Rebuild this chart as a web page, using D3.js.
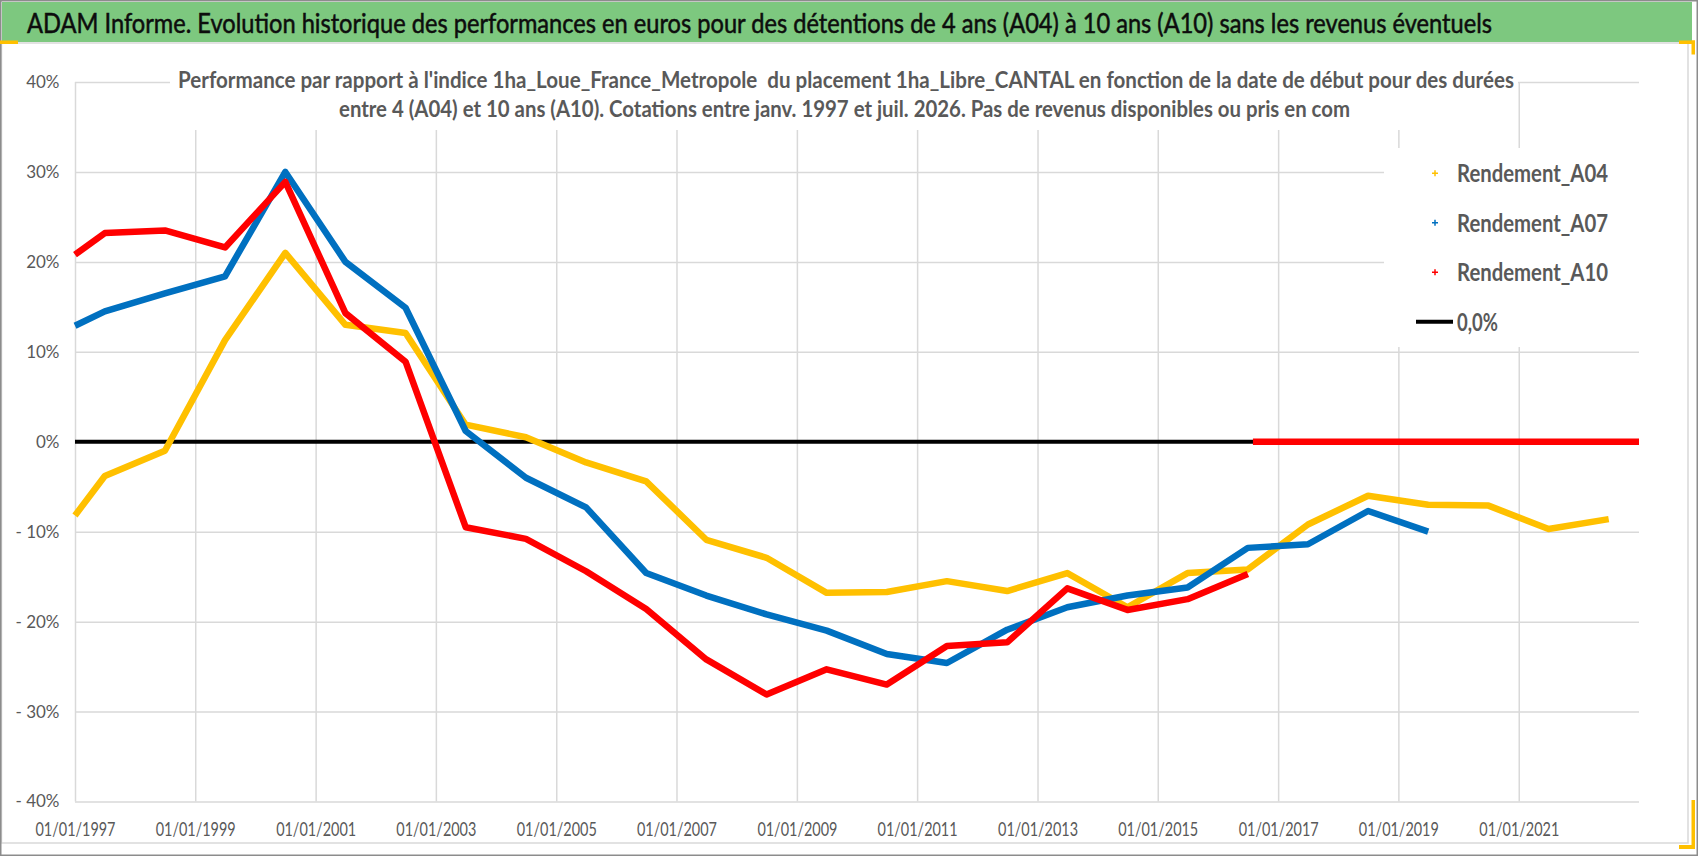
<!DOCTYPE html>
<html>
<head>
<meta charset="utf-8">
<script src="https://cdn.jsdelivr.net/npm/d3@7"></script>
<style>
  body { margin: 0; background: #fff; }
  text { font-family: Lato, "Open Sans", sans-serif; }
</style>
</head>
<body>
<script>
var width = 1698;
var height = 856;

// data (percent)
var datesA04 = ["1997-01-01","1997-07-01","1998-07-01","1999-07-01","2000-07-01","2001-07-01","2002-07-01",
  "2003-07-01","2004-07-01","2005-07-01","2006-07-01","2007-07-01","2008-07-01","2009-07-01","2010-07-01",
  "2011-07-01","2012-07-01","2013-07-01","2014-07-01","2015-07-01","2016-07-01","2017-07-01","2018-07-01",
  "2019-07-01","2020-07-01","2021-07-01","2022-07-01"];
var valuesA04 = [-8.2, -3.8, -1.0, 11.3, 21.0, 13.0, 12.1, 1.9, 0.5, -2.3, -4.4, -10.9, -12.9, -16.8, -16.7,
  -15.5, -16.6, -14.6, -18.4, -14.6, -14.2, -9.2, -6.0, -7.0, -7.1, -9.7, -8.6];

var datesA07 = ["1997-01-01","1997-07-01","1998-07-01","1999-07-01","2000-07-01","2001-07-01","2002-07-01",
  "2003-07-01","2004-07-01","2005-07-01","2006-07-01","2007-07-01","2008-07-01","2009-07-01","2010-07-01",
  "2011-07-01","2012-07-01","2013-07-01","2014-07-01","2015-07-01","2016-07-01","2017-07-01","2018-07-01",
  "2019-07-01"];
var valuesA07 = [12.9, 14.5, 16.5, 18.4, 30.0, 20.0, 14.9, 1.2, -4.0, -7.3, -14.6, -17.1, -19.2, -21.0, -23.6,
  -24.6, -20.9, -18.4, -17.1, -16.2, -11.8, -11.4, -7.7, -10.0];

var datesA10 = ["1997-01-01","1997-07-01","1998-07-01","1999-07-01","2000-07-01","2001-07-01","2002-07-01",
  "2003-07-01","2004-07-01","2005-07-01","2006-07-01","2007-07-01","2008-07-01","2009-07-01","2010-07-01",
  "2011-07-01","2012-07-01","2013-07-01","2014-07-01","2015-07-01","2016-07-01"];
var valuesA10 = [20.8, 23.2, 23.5, 21.6, 28.9, 14.3, 8.9, -9.5, -10.8, -14.4, -18.6, -24.2, -28.1, -25.3, -27.0,
  -22.7, -22.3, -16.3, -18.7, -17.5, -14.7];
// A10 has no more values after mid 2016: plotted at zero
var datesA10Zero = ["2016-08-01", "2023-01-01"];
var valuesA10Zero = [0, 0];

var datesZero = ["1997-01-01", "2023-01-01"];
var valuesZero = [0, 0];

var xTicks = ["1997-01-01","1999-01-01","2001-01-01","2003-01-01","2005-01-01","2007-01-01","2009-01-01",
  "2011-01-01","2013-01-01","2015-01-01","2017-01-01","2019-01-01","2021-01-01"];
var yTicks = [-40, -30, -20, -10, 0, 10, 20, 30, 40];

var legendNames = ["Rendement_A04", "Rendement_A07", "Rendement_A10", "0,0%"];

var title = "ADAM Informe. Evolution historique des performances en euros pour des détentions de 4 ans (A04) à 10 ans (A10) sans les revenus éventuels";
var subtitle1 = "Performance par rapport à l'indice 1ha_Loue_France_Metropole  du placement 1ha_Libre_CANTAL en fonction de la date de début pour des durées";
var subtitle2 = "entre 4 (A04) et 10 ans (A10). Cotations entre janv. 1997 et juil. 2026. Pas de revenus disponibles ou pris en com";

var yellow = "#ffc000", blue = "#0070c0", red = "#ff0000";
var labelColor = "#595959";
var gridColor = "#d9d9d9";

var parse = d3.timeParse("%Y-%m-%d");

var canvas = d3.select("body")
    .append("svg")
    .attr("width", width)
    .attr("height", height);

// frame
canvas.append("rect").attr("x", 0).attr("y", 0).attr("width", width).attr("height", height).attr("fill", "#fff");
canvas.append("rect")
    .attr("x", 1.5).attr("y", 43).attr("width", 1686.5).attr("height", 800)
    .attr("fill", "#fff").attr("stroke", gridColor).attr("stroke-width", 1.5);
canvas.append("rect")
    .attr("x", 2).attr("y", 2).attr("width", 1690).attr("height", 40)
    .attr("fill", "#7dc87f");
canvas.append("rect")
    .attr("x", 0.75).attr("y", 0.75).attr("width", width - 1.5).attr("height", height - 1.5)
    .attr("fill", "none").attr("stroke", "#8c8c8c").attr("stroke-width", 1.5);

// selection handles
canvas.append("rect").attr("x", 0).attr("y", 40.5).attr("width", 18).attr("height", 3.5).attr("fill", yellow);
canvas.append("rect").attr("x", 1679).attr("y", 40.5).attr("width", 16).attr("height", 3.5).attr("fill", yellow);
canvas.append("rect").attr("x", 1691.5).attr("y", 40.5).attr("width", 3.5).attr("height", 14).attr("fill", yellow);
canvas.append("rect").attr("x", 1691.5).attr("y", 800).attr("width", 3.5).attr("height", 49).attr("fill", yellow);
canvas.append("rect").attr("x", 1679).attr("y", 845).attr("width", 16).attr("height", 4).attr("fill", yellow);

canvas.append("text")
    .attr("x", 27).attr("y", 33)
    .attr("font-size", 26)
    .attr("fill", "#0d0d0d")
    .attr("stroke", "#0d0d0d")
    .attr("stroke-width", 0.5)
    .attr("textLength", 1465)
    .attr("lengthAdjust", "spacingAndGlyphs")
    .text(title);

// scales
var plotLeft = 75, plotRight = 1639, plotTop = 82, plotBottom = 801.5;
var x = d3.scaleTime()
    .domain([parse("1997-01-01"), parse("2023-01-01")])
    .range([plotLeft, plotRight]);
var y = d3.scaleLinear()
    .domain([-40, 40])
    .range([plotBottom, plotTop]);

var yAxis = d3.axisLeft(y)
    .tickValues(yTicks)
    .tickSizeInner(-(plotRight - plotLeft))
    .tickSizeOuter(0)
    .tickPadding(15.5)
    .tickFormat(function(d) { return d < 0 ? "- " + Math.abs(d) + "%" : d + "%"; });

var gy = canvas.append("g")
    .attr("transform", "translate(" + plotLeft + ",0)")
    .call(yAxis);
gy.select(".domain").remove();
gy.selectAll("line").attr("stroke", gridColor).attr("stroke-width", 1.5);
gy.selectAll("text")
    .attr("fill", labelColor)
    .attr("font-size", 17)
    .attr("font-family", "Lato, 'Open Sans', sans-serif");

var xAxis = d3.axisBottom(x)
    .tickValues(xTicks.map(parse))
    .tickSizeInner(-(plotBottom - plotTop))
    .tickSizeOuter(0)
    .tickFormat(d3.timeFormat("%d/%m/%Y"));

var gx = canvas.append("g")
    .attr("transform", "translate(0," + plotBottom + ")")
    .call(xAxis);
gx.select(".domain").remove();
gx.selectAll("line").attr("stroke", gridColor).attr("stroke-width", 1.5);
gx.selectAll("text")
    .attr("y", 34)
    .attr("dy", 0)
    .attr("fill", labelColor)
    .attr("font-size", 18.5)
    .attr("font-family", "Lato, 'Open Sans', sans-serif")
    .attr("textLength", 80)
    .attr("lengthAdjust", "spacingAndGlyphs");

// chart title box (hides grid behind it)
canvas.append("rect")
    .attr("x", 170).attr("y", 60).attr("width", 1348).attr("height", 70)
    .attr("fill", "#fff");
canvas.append("text")
    .attr("x", 178).attr("y", 88)
    .attr("font-size", 23).attr("font-weight", "bold")
    .attr("fill", labelColor)
    .style("white-space", "pre")
    .attr("textLength", 1336)
    .attr("lengthAdjust", "spacingAndGlyphs")
    .text(subtitle1);
canvas.append("text")
    .attr("x", 339).attr("y", 117)
    .attr("font-size", 23).attr("font-weight", "bold")
    .attr("fill", labelColor)
    .attr("textLength", 1011)
    .attr("lengthAdjust", "spacingAndGlyphs")
    .text(subtitle2);

// series
function toPoints(dates, values) {
    return dates.map(function(d, i) { return { date: parse(d), value: values[i] }; });
}
var line = d3.line()
    .x(function(d) { return x(d.date); })
    .y(function(d) { return y(d.value); });

function drawSeries(points, color, w) {
    canvas.append("path")
        .datum(points)
        .attr("d", line)
        .attr("fill", "none")
        .attr("stroke", color)
        .attr("stroke-width", w)
        .attr("stroke-linejoin", "round");
}

drawSeries(toPoints(datesZero, valuesZero), "#000", 4);
drawSeries(toPoints(datesA04, valuesA04), yellow, 6.5);
drawSeries(toPoints(datesA07, valuesA07), blue, 6.5);
drawSeries(toPoints(datesA10, valuesA10), red, 6.5);
drawSeries(toPoints(datesA10Zero, valuesA10Zero), red, 6.5);

// legend
canvas.append("rect")
    .attr("x", 1384).attr("y", 148).attr("width", 256).attr("height", 199)
    .attr("fill", "#fff");
var legendColors = [yellow, blue, red, "#000"];
var legendWidths = [151, 151, 151, 41];
legendNames.forEach(function(name, i) {
    var cy = 173.3 + i * 49.5;
    if (i < 3) {
        canvas.append("path")
            .attr("d", "M1432," + cy + "H1438M1435," + (cy - 3) + "V" + (cy + 3))
            .attr("stroke", legendColors[i])
            .attr("stroke-width", 1.5);
    } else {
        canvas.append("line")
            .attr("x1", 1416).attr("x2", 1453)
            .attr("y1", cy).attr("y2", cy)
            .attr("stroke", "#000").attr("stroke-width", 4);
    }
    canvas.append("text")
        .attr("x", 1457).attr("y", cy + 9)
        .attr("font-size", 24.5).attr("font-weight", "bold")
        .attr("fill", labelColor)
        .attr("textLength", legendWidths[i])
        .attr("lengthAdjust", "spacingAndGlyphs")
        .text(name);
});
</script>
</body>
</html>
